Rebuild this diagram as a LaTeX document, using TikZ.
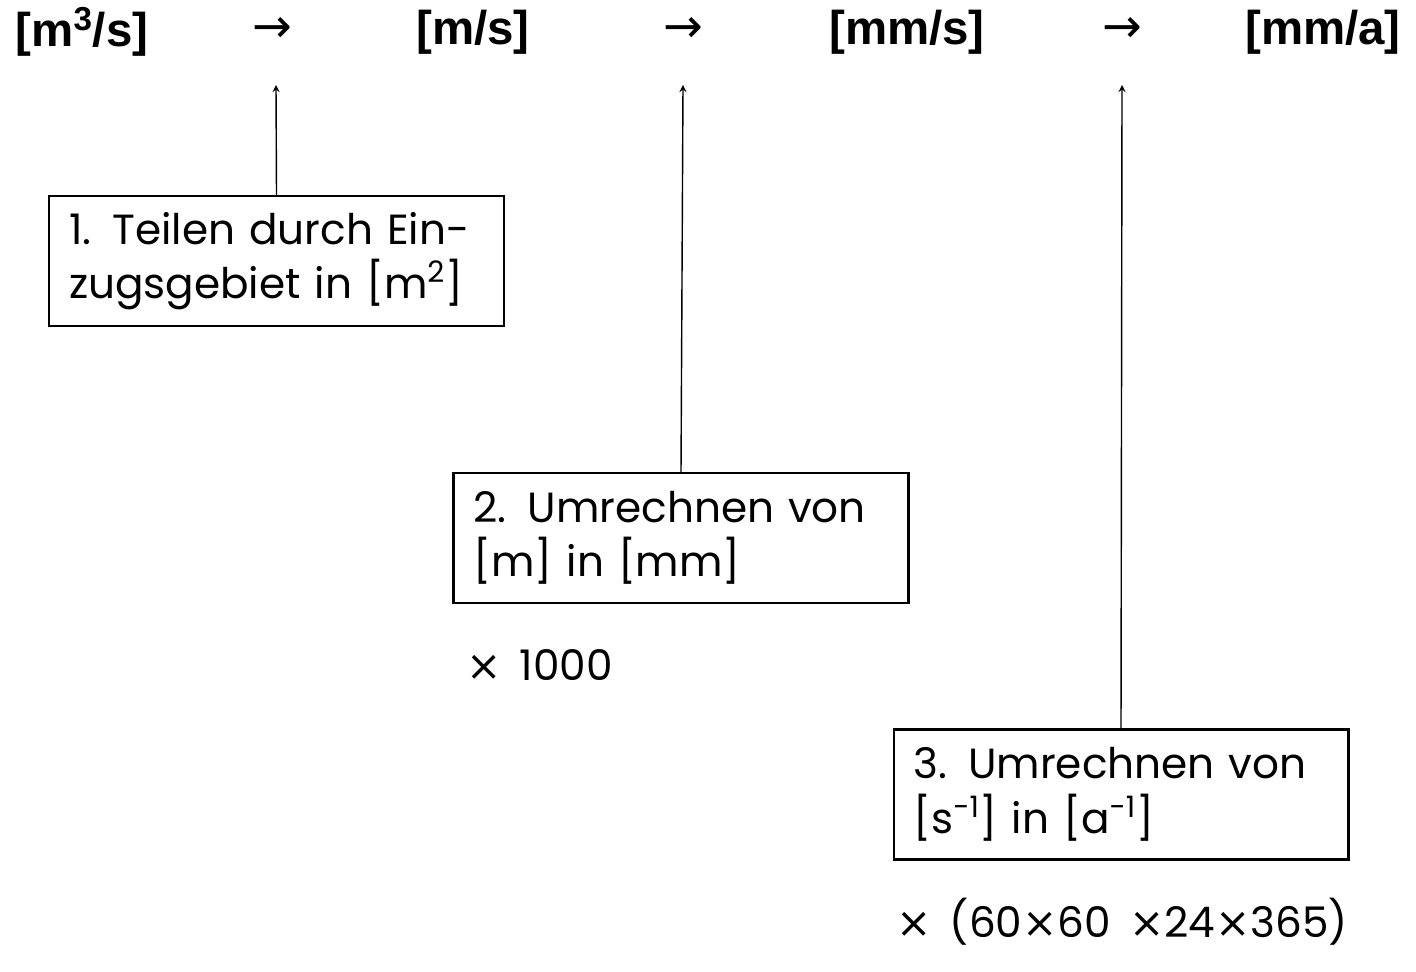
\documentclass[tikz,border=0pt]{standalone}
\usepackage{fontspec}
\setmainfont{Poppins}
\newfontfamily\hdr{Liberation Sans}
\newfontfamily\sym{DejaVu Sans}
\begin{document}
\begin{tikzpicture}[x=0.02cm,y=-0.02cm,
  hd/.style={font=\hdr\bfseries\fontsize{27}{30}\selectfont,inner sep=0pt},
  ar/.style={font=\sym\fontsize{27}{30}\selectfont,inner sep=0pt},
  box/.style={draw,line width=1.2pt,minimum width=9.1cm,minimum height=2.6cm,text width=8.3cm,align=left,font=\fontsize{24}{31}\selectfont,inner sep=0pt},
  up/.style={->,line width=0.8pt,>=stealth},
  lab/.style={anchor=west,font=\fontsize{24}{30}\selectfont,inner sep=0pt}]
\useasboundingbox (0,0) rectangle (1416,972);
\node[hd] (u1) at (82,32) {[m\textsuperscript{3}/s]};
\node[ar] (a1) at (272,30) {→};
\node[hd] (u2) at (473,32) {[m/s]};
\node[ar] (a2) at (683,30) {→};
\node[hd] (u3) at (907,32) {[mm/s]};
\node[ar] (a3) at (1122,30) {→};
\node[hd] (u4) at (1323,32) {[mm/a]};
\node[box] (b1) at (276.5,261) {1. Teilen durch Ein-\\zugsgebiet in [m\textsuperscript{2}]};
\node[box] (b2) at (681,538) {2. Umrechnen von\\{}[m] in [mm]};
\node[box] (b3) at (1121,794.5) {3. Umrechnen von\\{}[s\textsuperscript{-1}] in [a\textsuperscript{-1}]};
\coordinate (t1) at (276,85);
\coordinate (t2) at (683,85);
\coordinate (t3) at (1122,85);
\draw[up] (b1.north) -- (t1);
\draw[up] (b2.north) -- (t2);
\draw[up] (b3.north) -- (t3);
\node[lab] (m1) at (466,665) {{\sym×}\, 1000};
\node[lab] (m2) at (896,922) {{\sym×}\, (60{\sym×}60\, {\sym×}24{\sym×}365)};
\end{tikzpicture}
\end{document}
